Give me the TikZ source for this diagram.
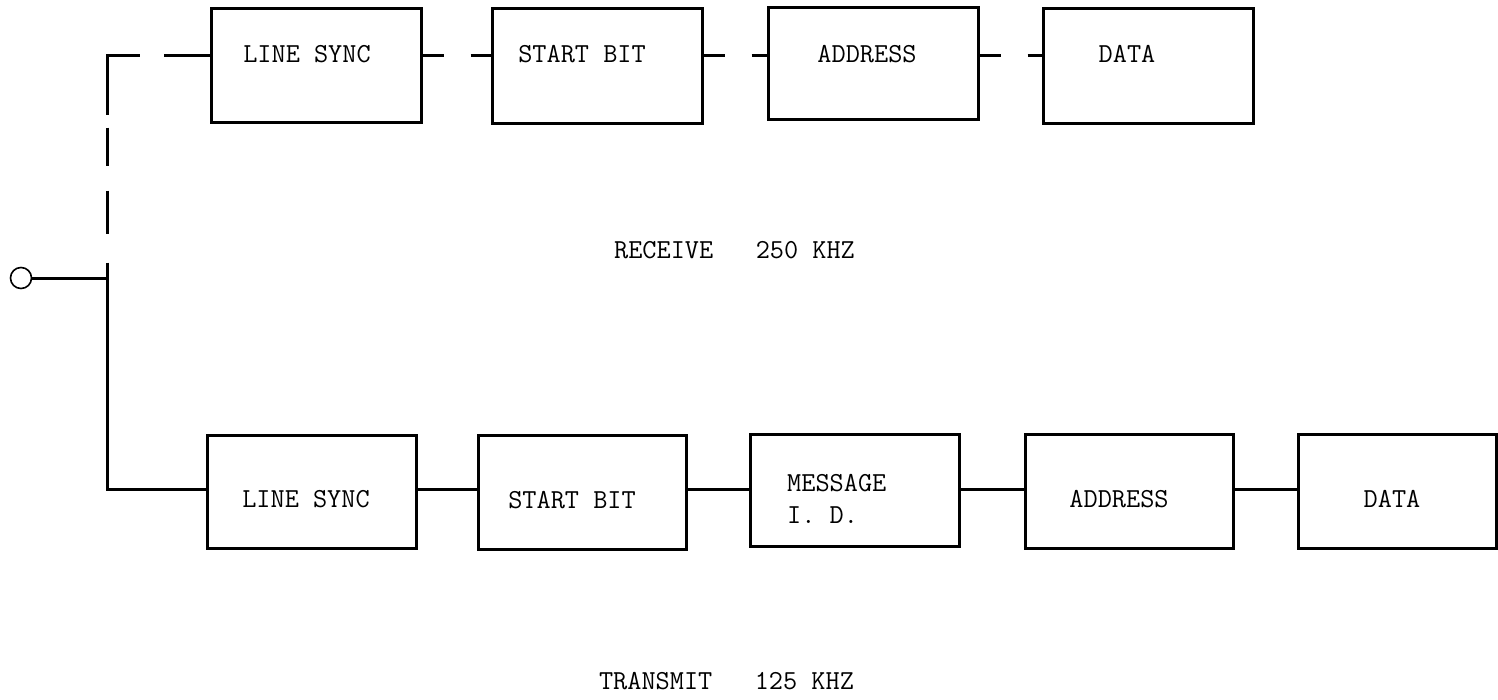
\documentclass[tikz,border=0pt]{standalone}
\usetikzlibrary{calc}
\begin{document}
\begin{tikzpicture}[x=1pt,y=-1pt,
  wire/.style={line width=3pt},
  blk/.style={draw, rectangle, line width=3pt, inner sep=0pt},
  lbl/.style={inner sep=0pt, font=\fontsize{27.5}{32}\selectfont\ttfamily},
  topdash/.style={wire, dash pattern=on 21pt off 27pt}]
\useasboundingbox (0,0) rectangle (1498,699);
% reference heights of the connector lines
\coordinate (ty) at (0,55);
\coordinate (by) at (0,489);
% receive row
\node[blk, minimum width=210pt, minimum height=114pt] (t1) at (316,65) {};
\node[blk, minimum width=210pt, minimum height=115pt] (t2) at (597,65.5) {};
\node[blk, minimum width=210pt, minimum height=112pt] (t3) at (873,63) {};
\node[blk, minimum width=210pt, minimum height=115pt] (t4) at (1148,65.5) {};
\node[lbl] (t1l) at (307,54) {LINE SYNC};
\node[lbl] (t2l) at (582,54) {START BIT};
\node[lbl] (t3l) at (867,54) {ADDRESS};
\node[lbl] (t4l) at (1127,54) {DATA};
\draw[topdash] (t1.east |- ty) -- (t2.west |- ty);
\draw[topdash] (t2.east |- ty) -- (t3.west |- ty);
\draw[topdash] (t3.east |- ty) -- (t4.west |- ty);
% transmit row
\node[blk, minimum width=209pt, minimum height=113pt] (b1) at (311.5,491.5) {};
\node[blk, minimum width=208pt, minimum height=114pt] (b2) at (582,492) {};
\node[blk, minimum width=209pt, minimum height=112pt] (b3) at (854.5,490) {};
\node[blk, minimum width=208pt, minimum height=114pt] (b4) at (1129,491) {};
\node[blk, minimum width=198pt, minimum height=114pt] (b5) at (1397,491) {};
\node[lbl] (b1l) at (306,499) {LINE SYNC};
\node[lbl] (b2l) at (572,500) {START BIT};
\node[lbl, align=left, anchor=west] (b3l) at (787,499) {MESSAGE\\I. D.};
\node[lbl] (b4l) at (1119,499) {ADDRESS};
\node[lbl] (b5l) at (1392,499) {DATA};
\draw[wire] (b1.east |- by) -- (b2.west |- by);
\draw[wire] (b2.east |- by) -- (b3.west |- by);
\draw[wire] (b3.east |- by) -- (b4.west |- by);
\draw[wire] (b4.east |- by) -- (b5.west |- by);
% common bus on the left
\coordinate (cnr) at (107,55);
\coordinate (cbot) at (107,489);
\coordinate (jn) at (107,278);
\draw[wire, dash pattern=on 46pt off 24pt on 92pt off 13pt on 38pt off 25pt on 43pt off 29pt on 2000pt]
  (t1.west |- ty) -- (cnr) -- (cbot) -- (b1.west |- by);
\node[circle, draw, line width=1.6pt, minimum size=21pt, inner sep=0pt] (term) at (21,278) {};
\draw[wire] (term.east) -- (jn);
% captions
\node[lbl] (rx) at (734.5,250) {RECEIVE\ \ \ 250 KHZ};
\node[lbl] (tx) at (726.5,681) {TRANSMIT\ \ \ 125 KHZ};
\end{tikzpicture}
\end{document}
